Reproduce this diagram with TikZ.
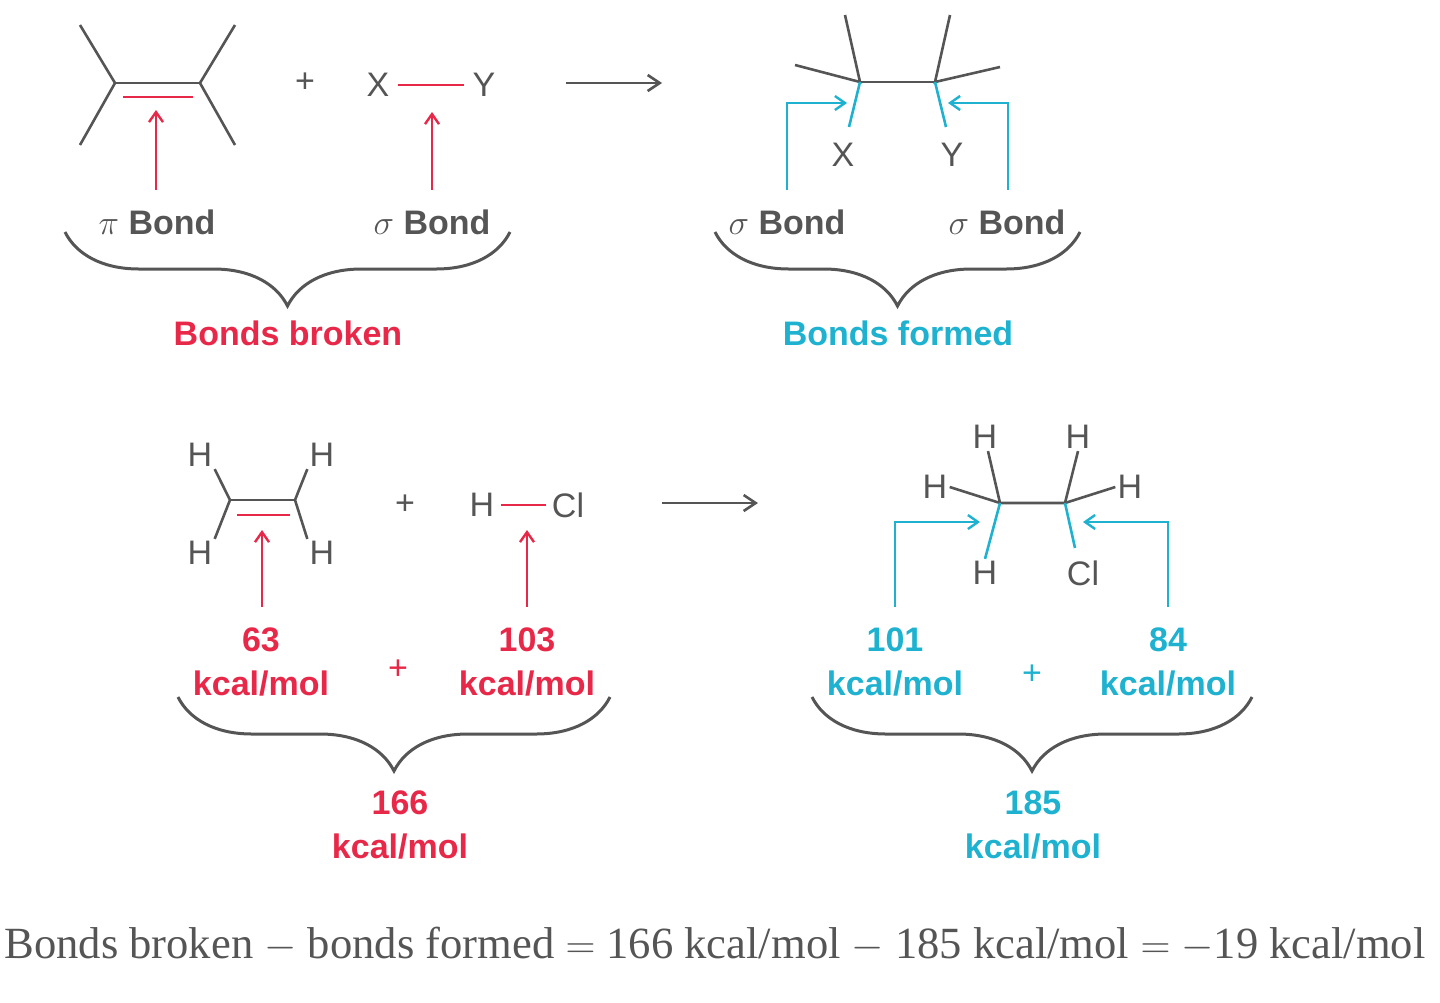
\documentclass[tikz,border=0pt]{standalone}
\usepackage{fontspec}
\setmainfont{Liberation Serif}
\setsansfont{Liberation Sans}
\usetikzlibrary{decorations.pathreplacing,arrows.meta}
\definecolor{rd}{RGB}{232,40,72}
\definecolor{cy}{RGB}{30,178,208}
\definecolor{gr}{RGB}{85,85,85}
\begin{document}
\begin{tikzpicture}[x=0.5pt,y=-0.5pt,
  bond/.style={gr,line width=1.3pt},
  rbond/.style={rd,line width=1.3pt},
  cbond/.style={cy,line width=1.3pt},
  rarr/.style={rd,line width=1.2pt,-{Straight Barb[length=5pt,width=7pt]}},
  carr/.style={cy,line width=1.2pt,-{Straight Barb[length=5pt,width=7pt]}},
  karr/.style={gr,line width=1.3pt,-{Straight Barb[length=6pt,width=8pt]}},
  atom/.style={font=\sffamily\fontsize{17}{17}\selectfont,text=gr,inner sep=1pt},
  lab/.style={font=\sffamily\bfseries\fontsize{17}{19}\selectfont,text=gr,inner sep=0pt,align=center},
  rlab/.style={lab,text=rd},
  clab/.style={lab,text=cy},
  brc/.style={gr,line width=1.5pt,decorate,decoration={brace,amplitude=37pt}}]
\useasboundingbox (0,0) rectangle (1440,1002);
% top left alkene
\coordinate (a1) at (115,83); \coordinate (a2) at (200,83);
\draw[bond] (80,25) coordinate (s1) -- (a1) -- (80,145) coordinate (s2);
\draw[bond] (235,25) coordinate (s3) -- (a2) -- (235,145) coordinate (s4);
\draw[bond] (a1) -- (a2);
\coordinate (pi1) at (123,97); \coordinate (pi2) at (193,97);
\draw[rbond] (pi1) -- (pi2);
\coordinate (pa) at (156,190); \coordinate (pb) at (156,110);
\draw[rarr] (pa) -- (pb);
\node[atom] (plus1) at (305,83) {+};
\node[atom] (X1) at (378,85) {X};
\node[atom] (Y1) at (484,85) {Y};
\draw[rbond] ([xshift=3pt]X1.east) -- ([xshift=-3pt]Y1.west);
\coordinate (sa) at (432,190); \coordinate (sb) at (432,112);
\draw[rarr] (sa) -- (sb);
\node[lab] (pib) at (157,222) {$\pi$ Bond};
\node[lab] (sib) at (432,222) {$\sigma$ Bond};
\coordinate (b1r) at (510,232); \coordinate (b1l) at (65,232);
\draw[brc] (b1r) -- (b1l);
\node[rlab] (bb) at (288,333) {Bonds broken};
% arrow
\coordinate (ar1) at (566,83); \coordinate (ar2) at (662,83);
\draw[karr] (ar1) -- (ar2);
% top product
\coordinate (c1) at (860,82); \coordinate (c2) at (935,82);
\draw[bond] (845,15) coordinate (t1) -- (c1) -- (795,65) coordinate (t2);
\draw[bond] (950,15) coordinate (t3) -- (c2) -- (1000,67) coordinate (t4);
\draw[bond] (c1) -- (c2);
\node[atom] (X2) at (843,155) {X};
\node[atom] (Y2) at (952,155) {Y};
\draw[cbond] (c1) -- (849,127);
\draw[cbond] (c2) -- (946,127);
\coordinate (f1) at (787,190); \coordinate (f2) at (787,103); \coordinate (f3) at (847,103);
\draw[carr] (f1) -- (f2) -- (f3);
\coordinate (g1) at (1008,190); \coordinate (g2) at (1008,103); \coordinate (g3) at (948,103);
\draw[carr] (g1) -- (g2) -- (g3);
\node[lab] (sb1) at (787,222) {$\sigma$ Bond};
\node[lab] (sb2) at (1007,222) {$\sigma$ Bond};
\coordinate (b2r) at (1080,232); \coordinate (b2l) at (715,232);
\draw[brc] (b2r) -- (b2l);
\node[clab] (bf) at (898,333) {Bonds formed};
% bottom ethylene
\coordinate (e1) at (230,500); \coordinate (e2) at (295,500);
\node[atom] (H1) at (200,455) {H};
\node[atom] (H2) at (322,455) {H};
\node[atom] (H3) at (200,553) {H};
\node[atom] (H4) at (322,553) {H};
\draw[bond] (H1.south east) -- (e1) -- (H3.north east);
\draw[bond] (H2.south west) -- (e2) -- (H4.north west);
\draw[bond] (e1) -- (e2);
\coordinate (q1) at (237,515); \coordinate (q2) at (290,515);
\draw[rbond] (q1) -- (q2);
\coordinate (ra) at (262,607); \coordinate (rb) at (262,530);
\draw[rarr] (ra) -- (rb);
\node[atom] (plus2) at (405,505) {+};
\node[atom] (H5) at (482,505) {H};
\node[atom] (Cl1) at (568,505) {Cl};
\draw[rbond] ([xshift=2pt]H5.east) -- ([xshift=-2pt]Cl1.west);
\coordinate (rc) at (527,607); \coordinate (rd2) at (527,530);
\draw[rarr] (rc) -- (rd2);
\node[rlab] (e63) at (261,662) {63\\[3pt]kcal/mol};
\node[atom,text=rd] (plus3) at (398,670) {+};
\node[rlab] (e103) at (527,662) {103\\[3pt]kcal/mol};
\coordinate (b3r) at (610,697); \coordinate (b3l) at (178,697);
\draw[brc] (b3r) -- (b3l);
\node[rlab] (e166) at (400,825) {166\\[3pt]kcal/mol};
% arrow 2
\coordinate (ar3) at (662,503); \coordinate (ar4) at (758,503);
\draw[karr] (ar3) -- (ar4);
% ethane product
\coordinate (d1) at (1000,503); \coordinate (d2) at (1065,503);
\node[atom] (H6) at (985,437) {H};
\node[atom] (H7) at (1078,437) {H};
\node[atom] (H8) at (935,487) {H};
\node[atom] (H9) at (1130,487) {H};
\node[atom] (H10) at (985,573) {H};
\node[atom] (Cl2) at (1083,573) {Cl};
\draw[bond] (H6.south) ++(3,0) -- (d1);
\draw[bond] (H8.east) -- (d1) -- (d2) -- (H9.west);
\draw[bond] (H7.south) -- (d2);
\draw[cbond] (d1) -- (H10.north);
\coordinate (clb) at (1075,548);
\draw[cbond] (d2) -- (clb);
\coordinate (h1) at (895,607); \coordinate (h2) at (895,522); \coordinate (h3) at (980,522);
\draw[carr] (h1) -- (h2) -- (h3);
\coordinate (k1) at (1168,607); \coordinate (k2) at (1168,522); \coordinate (k3) at (1083,522);
\draw[carr] (k1) -- (k2) -- (k3);
\node[clab] (e101) at (895,662) {101\\[3pt]kcal/mol};
\node[atom,text=cy] (plus4) at (1032,675) {+};
\node[clab] (e84) at (1168,662) {84\\[3pt]kcal/mol};
\coordinate (b4r) at (1252,697); \coordinate (b4l) at (812,697);
\draw[brc] (b4r) -- (b4l);
\node[clab] (e185) at (1033,825) {185\\[3pt]kcal/mol};
% equation
\node[text=gr,font=\fontsize{22.3}{22}\selectfont,inner sep=0pt] (eq) at (715,945)
  {Bonds broken $-$ bonds formed $=$ 166 kcal/mol $-$ 185 kcal/mol $=$ $-$19 kcal/mol};
\end{tikzpicture}
\end{document}
